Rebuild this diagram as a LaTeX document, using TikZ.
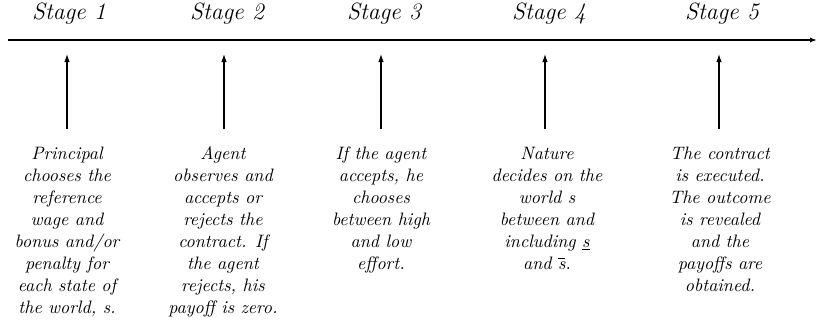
\documentclass[tikz,border=0pt]{standalone}
\usepackage{graphicx}
\usetikzlibrary{arrows.meta}
\newcommand\blktext[1]{\scalebox{1.8}{\fontsize{10}{12.22}\selectfont\itshape\begin{tabular}{@{}c@{}}#1\end{tabular}}}
\newcommand\stagetext[1]{\scalebox{1.8}{\fontsize{13.1}{15}\selectfont\itshape #1}}
\begin{document}
\begin{tikzpicture}[x=1pt,y=-1pt,
  lbl/.style={inner sep=0pt, anchor=base},
  txt/.style={inner sep=0pt, anchor=north},
  tl/.style={line width=1.3pt, -{Latex[length=7pt,width=5pt]}},
  up/.style={line width=1.1pt, -{Latex[length=8pt,width=5.5pt]}}]
\useasboundingbox (0,0) rectangle (817,322);
\coordinate (L) at (8,40);
\coordinate (R) at (817,40);
\draw[tl] (L) -- (R);
\node[lbl] (s1) at (69,19.5) {\stagetext{Stage 1}};
\node[lbl] (s2) at (227,19.5) {\stagetext{Stage 2}};
\node[lbl] (s3) at (384,19.5) {\stagetext{Stage 3}};
\node[lbl] (s4) at (549,19.5) {\stagetext{Stage 4}};
\node[lbl] (s5) at (722,19.5) {\stagetext{Stage 5}};
\foreach \i/\x in {1/67,2/224,3/381,4/545,5/719}{
  \coordinate (b\i) at (\x,129);
  \coordinate (t\i) at (\x,54);
  \draw[up] (b\i) -- (t\i);
}
\node[txt] (d1) at (67,143.5) {\blktext{Principal\\chooses the\\reference\\wage and\\bonus and/or\\penalty for\\each state of\\the world, s.}};
\node[txt] (d2) at (223,143.5) {\blktext{Agent\\observes and\\accepts or\\rejects the\\contract. If\\the agent\\rejects, his\\payoff is zero.}};
\node[txt] (d3) at (381,143.5) {\blktext{If the agent\\accepts, he\\chooses\\between high\\and low\\effort.}};
\node[txt] (d4) at (547,143.5) {\blktext{Nature\\decides on the\\world s\\between and\\including \underline{s}\\and $\overline{\textit{s}}$.}};
\node[txt] (d5) at (720,143.5) {\blktext{The contract\\is executed.\\The outcome\\is revealed\\and the\\payoffs are\\obtained.}};
\end{tikzpicture}
\end{document}
